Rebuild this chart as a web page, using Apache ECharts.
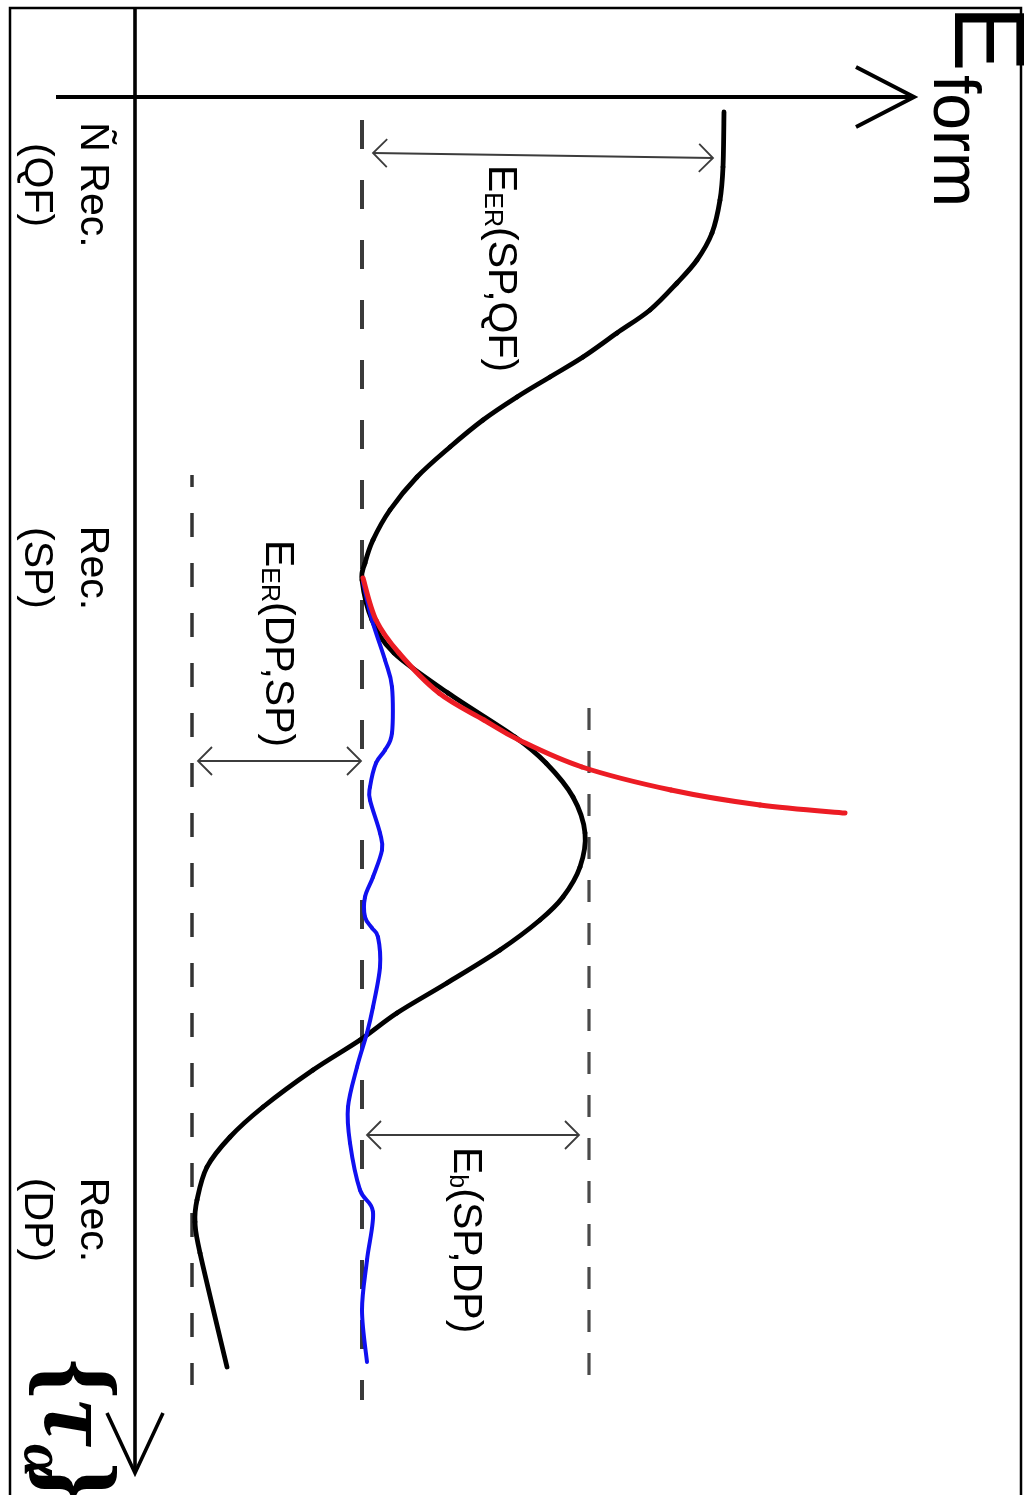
<!DOCTYPE html>
<html><head><meta charset="utf-8">
<script src="https://cdn.jsdelivr.net/npm/echarts@6/dist/echarts.min.js"></script>
<style>html,body{margin:0;padding:0;background:#fff}#c{width:1024px;height:1495px}</style>
</head><body><div id="c"></div>
<script>
// ---- DATA (energy E in arbitrary units, configuration coordinate tau, increasing downward) ----
const blackE = [5.89,5.88,5.85,5.77,5.62,5.42,5.15,4.82,4.48,4.15,3.82,3.48,3.15,2.82,2.55,2.38,2.30,2.27,2.37,2.59,3.13,3.80,4.11,4.38,4.50,4.45,4.28,4.05,3.65,3.12,2.62,2.25,1.78,1.28,0.95,0.72,0.62,0.60,0.65,0.92];
const blackT = [0.15,0.70,1.03,1.36,1.63,1.86,2.13,2.36,2.60,2.80,3.00,3.23,3.50,3.80,4.13,4.43,4.66,4.83,5.23,5.56,5.96,6.40,6.66,7.00,7.36,7.70,8.00,8.23,8.53,8.86,9.16,9.43,9.73,10.10,10.40,10.70,11.03,11.25,11.56,12.70];
const blueE = [2.28,2.37,2.50,2.57,2.57,2.50,2.41,2.35,2.35,2.45,2.47,2.38,2.30,2.30,2.37,2.43,2.45,2.38,2.32,2.22,2.13,2.15,2.25,2.38,2.32,2.27,2.32];
const blueT = [4.85,5.23,5.63,5.90,6.36,6.53,6.66,6.90,7.03,7.36,7.53,7.80,8.00,8.20,8.31,8.40,8.70,9.10,9.36,9.70,10.10,10.46,10.93,11.15,11.63,12.13,12.65];
const redE = [2.28,2.41,2.64,3.04,3.49,3.84,4.47,5.36,6.25,7.10];
const redT = [4.81,5.23,5.56,5.96,6.23,6.43,6.70,6.93,7.08,7.16];

// reference levels (dashed) and their tau extent
const levelNames = ['DP','SP','barrier'];
const levelE = [0.57, 2.27, 4.54];
const levelFromT = [3.78, 0.23, 6.11];
const levelToT = [12.88, 13.03, 12.83];

// double arrows
const arrowFromE = [2.38, 0.63, 2.32];
const arrowToE = [5.78, 2.26, 4.44];
const arrowFromT = [0.56, 6.64, 10.38];
const arrowToT = [0.61, 6.64, 10.38];

// energy labels
const energyMain = ['E', 'E', 'E'];
const energySub = ['ER', 'ER', 'b'];
const energyArgs = ['(SP,QF)', '(DP,SP)', '(SP,DP)'];
const energyLabelE = [3.65, 1.42, 3.30];
const energyLabelT = [0.68, 4.43, 10.50];

// state labels along the tau axis
const stateLabels = ['Ñ Rec.\n(QF)', 'Rec.\n(SP)', 'Rec.\n(DP)'];
const stateT = [0.88, 4.71, 11.23];
const stateE = -0.71;

// ---- CHART ----
const zip = (a, b) => a.map((v, i) => [v, b[i]]);
const chart = echarts.init(document.getElementById('c'), null, {renderer: 'canvas'});
const ROT = -Math.PI / 2;
const FONT = 'Liberation Sans';

const dashStyles = [
  {color: '#333', width: 3.5, type: [24, 26], dashOffset: 12},
  {color: '#3a3a3a', width: 4, type: [29, 31], dashOffset: 0},
  {color: '#4a4a4a', width: 3.2, type: [22, 21], dashOffset: 0}
];

const series = [];
levelE.forEach((e, i) => {
  series.push({
    type: 'line', name: levelNames[i], data: [[e, levelFromT[i]], [e, levelToT[i]]],
    symbol: 'none', silent: true, z: 1,
    lineStyle: dashStyles[i]
  });
});

// smooth curve (Catmull-Rom through data points, mapped through the chart's axes)
function curveSeries(name, xs, ts, color, width, z) {
  return {
    type: 'custom', name: name, z: z, data: zip(xs, ts),
    renderItem: (params, api) => {
      const i = params.dataIndex;
      if (i === 0) return null;
      const n = xs.length;
      const P = k => { k = Math.max(0, Math.min(n - 1, k)); return api.coord([xs[k], ts[k]]); };
      const p0 = P(i - 2), p1 = P(i - 1), p2 = P(i), p3 = P(i + 1);
      const k = 1 / 6;
      return {type: 'bezierCurve', shape: {
        x1: p1[0], y1: p1[1], x2: p2[0], y2: p2[1],
        cpx1: p1[0] + (p2[0] - p0[0]) * k, cpy1: p1[1] + (p2[1] - p0[1]) * k,
        cpx2: p2[0] - (p3[0] - p1[0]) * k, cpy2: p2[1] - (p3[1] - p1[1]) * k
      }, style: {stroke: color, lineWidth: width, fill: null, lineCap: 'round'}};
    }
  };
}
series.push(curveSeries('black', blackE, blackT, '#000', 4.8, 3));
series.push(curveSeries('blue', blueE, blueT, '#1010f0', 4, 4));
series.push(curveSeries('red', redE, redT, '#ec1c24', 5, 5));

// arrows
series.push({
  type: 'custom', name: 'arrows', z: 6, data: zip(arrowFromE, arrowFromT),
  renderItem: (params, api) => {
    const i = params.dataIndex;
    const a = api.coord([arrowFromE[i], arrowFromT[i]]);
    const b = api.coord([arrowToE[i], arrowToT[i]]);
    const dx = b[0] - a[0], dy = b[1] - a[1], L = Math.hypot(dx, dy);
    const ux = dx / L, uy = dy / L, h = 14, w = 14;
    const head = (p, s) => [[p[0] + s * ux * h - uy * w, p[1] + s * uy * h + ux * w], [p[0], p[1]],
      [p[0] + s * ux * h + uy * w, p[1] + s * uy * h - ux * w]];
    const st = {stroke: '#3c3c3c', lineWidth: 1.8, fill: null};
    return {type: 'group', children: [
      {type: 'line', shape: {x1: a[0], y1: a[1], x2: b[0], y2: b[1]}, style: st},
      {type: 'polyline', shape: {points: head(a, 1)}, style: st},
      {type: 'polyline', shape: {points: head(b, -1)}, style: st}
    ]};
  }
});

// energy labels
series.push({
  type: 'custom', name: 'energyLabels', z: 7, data: zip(energyLabelE, energyLabelT),
  renderItem: (params, api) => {
    const i = params.dataIndex;
    const p = api.coord([energyLabelE[i], energyLabelT[i]]);
    return {type: 'text', x: p[0], y: p[1], rotation: ROT, style: {
      text: '{m|' + energyMain[i] + '}{s|' + energySub[i] + '}{m|' + energyArgs[i] + '}',
      fill: '#000', align: 'left', verticalAlign: 'middle',
      rich: {
        m: {fontSize: 41, fontFamily: FONT, verticalAlign: 'bottom', fill: '#000'},
        s: {fontSize: 25, fontFamily: FONT, verticalAlign: 'bottom', fill: '#000'}
      }
    }};
  }
});

// state labels
series.push({
  type: 'custom', name: 'stateLabels', z: 7, data: stateT.map(t => [stateE, t]),
  renderItem: (params, api) => {
    const i = params.dataIndex;
    const p = api.coord([stateE, stateT[i]]);
    return {type: 'text', x: p[0], y: p[1], rotation: ROT, style: {
      text: stateLabels[i], fill: '#000', align: 'center', verticalAlign: 'middle',
      fontSize: 41, fontFamily: FONT, lineHeight: 56
    }};
  }
});

chart.setOption({
  animation: false,
  backgroundColor: '#fff',
  grid: {left: 135, top: 97, width: 880, height: 1390, containLabel: false},
  xAxis: {type: 'value', min: 0, max: 8.8, show: false},
  yAxis: {type: 'value', min: 0, max: 13.9, inverse: true, show: false},
  series: series,
  graphic: [
    // frame
    {type: 'rect', z: 0, shape: {x: 10, y: 8, width: 1011, height: 1500}, style: {stroke: '#000', lineWidth: 2.5, fill: null}},
    // energy axis (horizontal) with open arrow head
    {type: 'polyline', z: 10, shape: {points: [[56, 97], [913, 97]]}, style: {stroke: '#000', lineWidth: 4, fill: null}},
    {type: 'polyline', z: 10, shape: {points: [[856, 67], [914, 97], [856, 127]]}, style: {stroke: '#000', lineWidth: 4, fill: null, lineJoin: 'miter'}},
    // configuration axis (vertical) with open arrow head
    {type: 'polyline', z: 10, shape: {points: [[135, 8], [135, 1471]]}, style: {stroke: '#000', lineWidth: 3.6, fill: null}},
    {type: 'polyline', z: 10, shape: {points: [[107, 1413], [135, 1473], [163, 1413]]}, style: {stroke: '#000', lineWidth: 3.6, fill: null, lineJoin: 'miter'}},
    // axis titles
    {type: 'text', z: 11, x: 983, y: 5, rotation: ROT, style: {text: 'E', fontSize: 100, fontFamily: FONT, fill: '#000', align: 'left', verticalAlign: 'middle'}},
    {type: 'text', z: 11, x: 952, y: 75, rotation: ROT, style: {text: 'form', fontSize: 66, fontFamily: FONT, fill: '#000', align: 'left', verticalAlign: 'middle'}},
    {type: 'text', z: 11, x: 70, y: 1358, rotation: ROT, style: {text: '{', fontSize: 105, fontFamily: 'Liberation Serif', fontWeight: 'bold', fill: '#000', align: 'left', verticalAlign: 'middle'}},
    {type: 'text', z: 11, x: 71, y: 1400, rotation: ROT, style: {text: 'τ', fontSize: 100, fontFamily: 'Liberation Serif', fontStyle: 'italic', fontWeight: 'bold', fill: '#000', align: 'left', verticalAlign: 'middle'}},
    {type: 'text', z: 11, x: 40, y: 1444, rotation: ROT, style: {text: 'α', fontSize: 60, fontFamily: 'Liberation Serif', fontStyle: 'italic', fontWeight: 'bold', fill: '#000', align: 'left', verticalAlign: 'middle'}},
    {type: 'text', z: 11, x: 70, y: 1462, rotation: ROT, style: {text: '}', fontSize: 105, fontFamily: 'Liberation Serif', fontWeight: 'bold', fill: '#000', align: 'left', verticalAlign: 'middle'}}
  ]
});
</script></body></html>
